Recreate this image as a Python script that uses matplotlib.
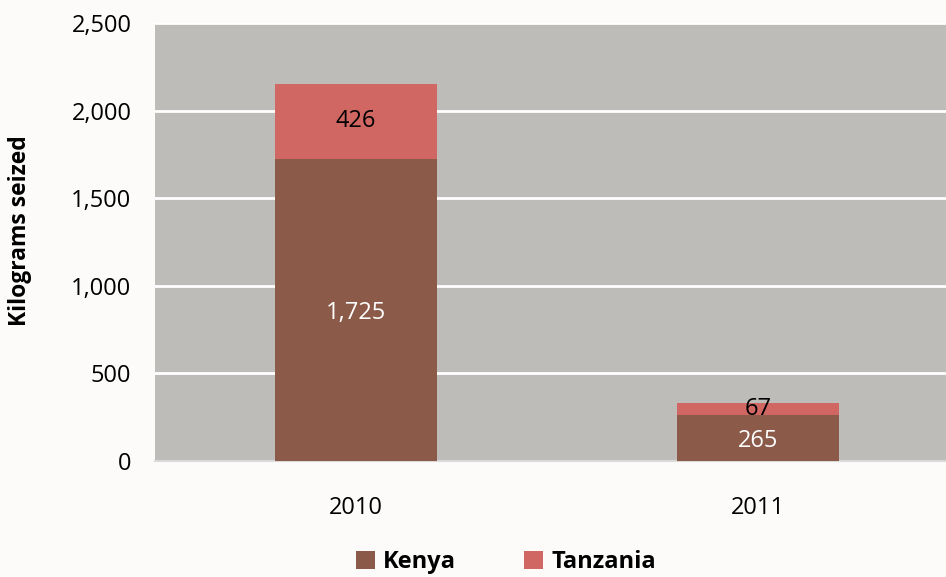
import matplotlib
matplotlib.use("Agg")
import matplotlib.pyplot as plt
import numpy as np

plt.rcParams["font.family"] = ["Open Sans", "DejaVu Sans"]

# data
years = ["2010", "2011"]
kenya = [1725, 265]
tanzania = [426, 67]
yticks = [0, 500, 1000, 1500, 2000, 2500]

C_KENYA = "#8B5A48"
C_TANZ = "#D06763"
C_BG = "#BEBCB8"

fig = plt.figure(figsize=(9.46, 5.77), dpi=100, facecolor="#FCFBFA")
ax = fig.add_axes([155 / 946, 1 - 461 / 577, 791 / 946, 438 / 577])
ax.set_facecolor(C_BG)

x = np.arange(len(years))
w = 0.405
b1 = ax.bar(x, kenya, w, color=C_KENYA, label="Kenya", zorder=3)
b2 = ax.bar(x, tanzania, w, bottom=kenya, color=C_TANZ, label="Tanzania", zorder=3)

for i in range(len(years)):
    ax.text(x[i], kenya[i] / 2 - 20, f"{kenya[i]:,}", ha="center", va="center",
            color="white", fontsize=17, zorder=4)
    ax.text(x[i], kenya[i] + tanzania[i] / 2, f"{tanzania[i]:,}", ha="center",
            va="center", color="black", fontsize=17, zorder=4)

ax.set_xlim(-0.5, 1.468)
ax.set_ylim(0, 2500)
ax.set_yticks(yticks)
ax.set_yticklabels([f"{v:,}" for v in yticks], fontsize=17)
ax.set_xticks(x)
ax.set_xticklabels(years, fontsize=17)
ax.tick_params(length=0)
ax.tick_params(axis="y", pad=17)
ax.tick_params(axis="x", pad=25)
ax.grid(axis="y", color="white", linewidth=2, zorder=1)
ax.set_axisbelow(True)
for s in ["top", "right", "left"]:
    ax.spines[s].set_visible(False)
ax.spines["bottom"].set_color("#D9D9D9")
ax.spines["bottom"].set_linewidth(1.5)

fig.text(20 / 946, 1 - 231 / 577, "Kilograms seized", rotation=90, ha="center",
         va="center", fontsize=16.5, fontweight="bold")

leg = fig.legend(handles=[b1, b2], loc="center", bbox_to_anchor=(506 / 946, 1 - 562 / 577),
                 ncol=2, frameon=False, prop={"size": 17, "weight": "bold"},
                 handlelength=0.8, handleheight=0.8, columnspacing=2.9, handletextpad=0.35)

fig.savefig("out.png", dpi=100, facecolor=fig.get_facecolor())
